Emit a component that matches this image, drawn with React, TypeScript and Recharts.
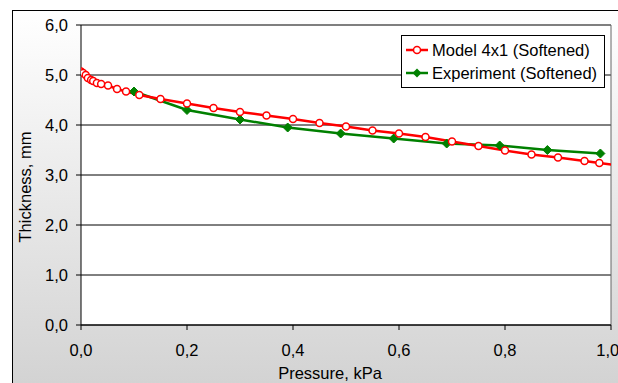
import React from "react";
import { LineChart, Line, XAxis, YAxis, CartesianGrid, ReferenceLine } from "recharts";

// Model 4x1 (Softened)
const modelPressure = [0, 0.004, 0.009, 0.013, 0.019, 0.023, 0.03, 0.038, 0.051, 0.068, 0.085, 0.11, 0.15, 0.2, 0.25, 0.3, 0.35, 0.4, 0.45, 0.5, 0.55, 0.6, 0.65, 0.7, 0.75, 0.8, 0.85, 0.9, 0.95, 0.978, 1.05];
const modelThickness = [5.07, 5.04, 5.0, 4.94, 4.9, 4.88, 4.84, 4.82, 4.79, 4.72, 4.67, 4.6, 4.52, 4.43, 4.34, 4.26, 4.19, 4.12, 4.04, 3.97, 3.89, 3.83, 3.76, 3.67, 3.58, 3.49, 3.41, 3.35, 3.28, 3.24, 3.14];

// Experiment (Softened)
const expPressure = [0.1, 0.2, 0.3, 0.39, 0.49, 0.59, 0.69, 0.79, 0.88, 0.98];
const expThickness = [4.67, 4.3, 4.11, 3.95, 3.83, 3.73, 3.63, 3.59, 3.5, 3.43];

const xTicks = [0, 0.2, 0.4, 0.6, 0.8, 1.0];
const yTicks = [0, 1, 2, 3, 4, 5, 6];

const modelData = modelPressure.map((p, i) => ({ p, t: modelThickness[i] }));
const expData = expPressure.map((p, i) => ({ p, t: expThickness[i] }));

const FONT = "'Liberation Sans', Arial, sans-serif";
const FS = 16.5;
const RED = "#ff0000";
const GREEN = "#008000";

const fmt = (v: number) => v.toFixed(1).replace(".", ",");

const Diamond = (props: any) => {
  const { cx, cy, index } = props;
  if (cx == null || cy == null) return <g key={index} />;
  const s = 4.5;
  return (
    <polygon
      key={index}
      points={`${cx},${cy - s} ${cx + s},${cy} ${cx},${cy + s} ${cx - s},${cy}`}
      fill={GREEN}
      stroke={GREEN}
      strokeWidth={1}
    />
  );
};

export default function App() {
  return (
    <div style={{ position: "absolute", left: 0, top: 0, width: 618, height: 383, overflow: "hidden" }}>
      <div
        style={{
          position: "absolute",
          left: 12,
          top: 10,
          width: 700,
          height: 400,
          border: "1px solid #000",
          background: "linear-gradient(to bottom, #ffffff 0%, #d3d3d3 93%)",
        }}
      />
      <div style={{ position: "absolute", left: 0, top: 0 }}>
        <LineChart width={618} height={383} margin={{ top: 25, right: 7, left: 12, bottom: 0 }}>
          <CartesianGrid vertical={false} stroke="#000" fill="#fff" fillOpacity={1} />
          <XAxis
            type="number"
            dataKey="p"
            domain={[0, 1]}
            ticks={xTicks}
            allowDataOverflow
            tickFormatter={fmt}
            height={58}
            tickSize={5}
            tickMargin={14}
            stroke="#000"
            tick={{ fill: "#000", fontSize: FS, fontFamily: FONT }}
          />
          <YAxis
            type="number"
            domain={[0, 6]}
            ticks={yTicks}
            tickFormatter={fmt}
            width={69}
            tickSize={5}
            tickMargin={8}
            stroke="#000"
            tick={{ fill: "#000", fontSize: FS, fontFamily: FONT }}
          />
          <ReferenceLine x={1} stroke="#666" ifOverflow="extendDomain" />
          <Line
            data={expData}
            dataKey="t"
            type="linear"
            stroke={GREEN}
            strokeWidth={2.5}
            dot={Diamond}
            activeDot={false}
            isAnimationActive={false}
          />
          <Line
            data={modelData}
            dataKey="t"
            type="linear"
            stroke={RED}
            strokeWidth={2.5}
            dot={{ r: 3.5, stroke: RED, strokeWidth: 1.5, fill: "#fff" }}
            activeDot={false}
            isAnimationActive={false}
          />
          <text
            x={25}
            y={187}
            transform="rotate(-90 25 187)"
            textAnchor="middle"
            dominantBaseline="central"
            fontSize={FS}
            fontFamily={FONT}
            fill="#000"
          >
            Thickness, mm
          </text>
          <text x={330} y={373} textAnchor="middle" dominantBaseline="central" fontSize={FS} fontFamily={FONT} fill="#000">
            Pressure, kPa
          </text>
          <g>
            <rect x={401.5} y={35.5} width={203} height={52} fill="#fff" stroke="#000" strokeWidth={1} />
            <line x1={406} y1={50} x2={428} y2={50} stroke={RED} strokeWidth={2.5} />
            <circle cx={417} cy={50} r={3.5} fill="#fff" stroke={RED} strokeWidth={1.5} />
            <text x={432} y={50} dominantBaseline="central" fontSize={FS} fontFamily={FONT} fill="#000">
              Model 4x1 (Softened)
            </text>
            <line x1={406} y1={73} x2={428} y2={73} stroke={GREEN} strokeWidth={2.5} />
            <polygon points="417,68.5 421.5,73 417,77.5 412.5,73" fill={GREEN} />
            <text x={432} y={73} dominantBaseline="central" fontSize={FS} fontFamily={FONT} fill="#000">
              Experiment (Softened)
            </text>
          </g>
        </LineChart>
      </div>
    </div>
  );
}
